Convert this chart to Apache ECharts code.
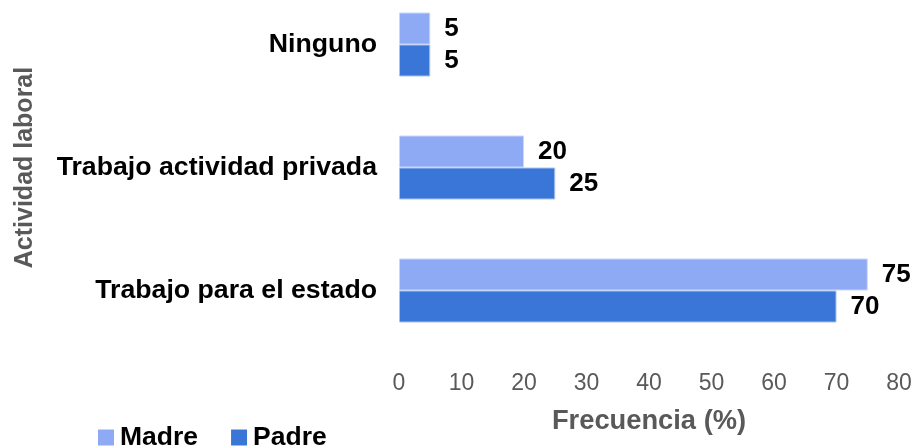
<!DOCTYPE html>
<html>
<head>
<meta charset="utf-8">
<script src="https://cdn.jsdelivr.net/npm/echarts@6/dist/echarts.min.js"></script>
<style>
  html, body { margin: 0; padding: 0; background: #fff; }
  #container { width: 914px; height: 448px; }
</style>
</head>
<body>
<div id="container"></div>
<script>
// categories bottom -> top (as drawn on the y axis)
var categorias = ['Trabajo para el estado', 'Trabajo actividad privada', 'Ninguno'];
var madre = [75, 20, 5];
var padre = [70, 25, 5];

var myChart = echarts.init(document.getElementById('container'));

var labelStyle = {
  show: true,
  position: 'right',
  distance: 14,
  color: '#000',
  fontFamily: 'Liberation Sans',
  fontWeight: 'bold',
  fontSize: 26
};

var option = {
  animation: false,
  textStyle: { fontFamily: 'Liberation Sans' },
  grid: {
    left: 399,
    right: 15,
    top: -17,
    height: 369,
    outerBoundsMode: 'none'
  },
  legend: {
    data: ['Madre', 'Padre'],
    left: 93,
    top: 419,
    itemWidth: 16,
    itemHeight: 16,
    itemGap: 33,
    icon: 'rect',
    itemStyle: { borderWidth: 0 },
    textStyle: {
      color: '#000',
      fontWeight: 'bold',
      fontSize: 26.5,
      padding: [0, 0, 0, 1]
    }
  },
  xAxis: {
    type: 'value',
    min: 0,
    max: 80,
    interval: 10,
    name: 'Frecuencia (%)',
    nameLocation: 'middle',
    nameGap: 56,
    nameTextStyle: { color: '#595959', fontWeight: 'bold', fontSize: 27.3 },
    axisLine: { show: false },
    axisTick: { show: false },
    splitLine: { show: false },
    axisLabel: { color: '#595959', fontSize: 23, margin: 20 }
  },
  yAxis: {
    type: 'category',
    data: categorias,
    name: 'Actividad laboral',
    nameLocation: 'middle',
    nameGap: 361,
    nameTextStyle: { color: '#595959', fontWeight: 'bold', fontSize: 25 },
    axisLine: { show: false },
    axisTick: { show: false },
    axisLabel: { color: '#000', fontWeight: 'bold', fontSize: 26.7, margin: 22 }
  },
  series: [{
    name: 'Madre',
    type: 'bar',
    data: madre,
    barWidth: 32,
    barGap: '0%',
    itemStyle: { color: '#8eaaf5', borderColor: '#c9d6fa', borderWidth: 1 },
    label: labelStyle
  }, {
    name: 'Padre',
    type: 'bar',
    data: padre,
    barWidth: 32,
    itemStyle: { color: '#3a76d8', borderColor: '#a9c2ee', borderWidth: 1 },
    label: labelStyle
  }]
};

myChart.setOption(option);
</script>
</body>
</html>
